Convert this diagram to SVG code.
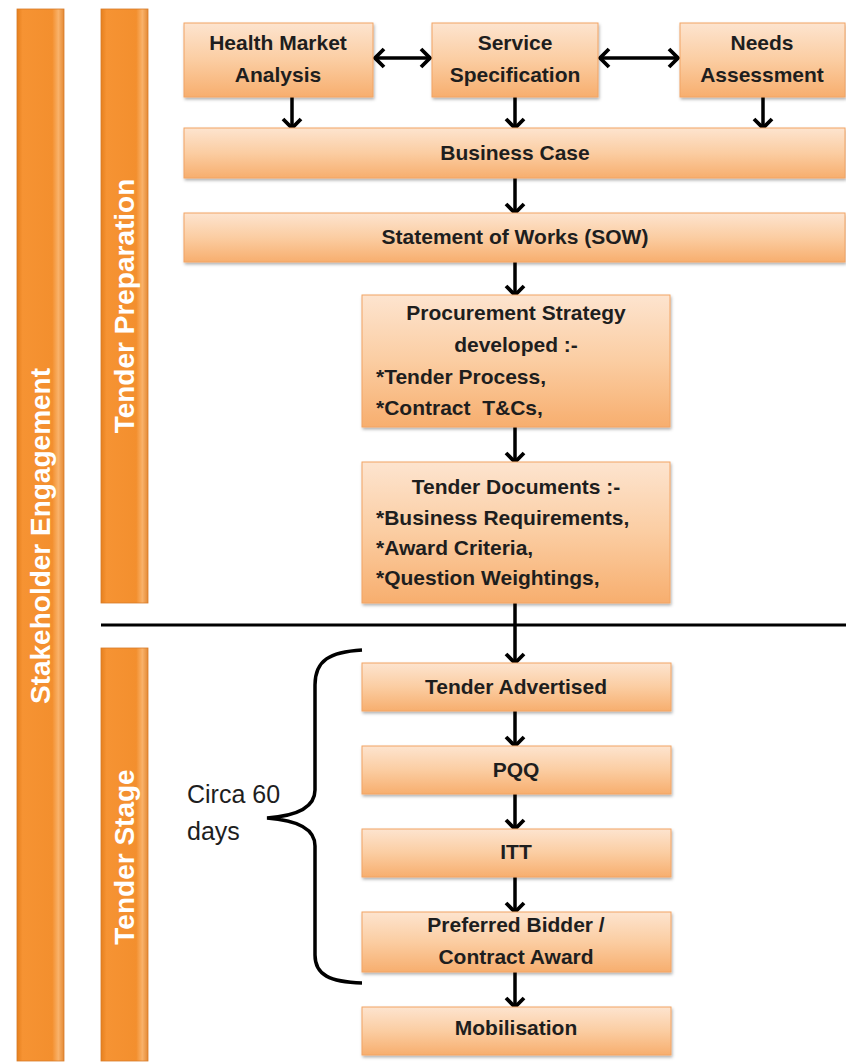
<svg xmlns="http://www.w3.org/2000/svg" width="846" height="1063" viewBox="0 0 846 1063">
<defs>
<linearGradient id="boxg" x1="0" y1="0" x2="0" y2="1">
<stop offset="0" stop-color="#fde4cf"/>
<stop offset="0.5" stop-color="#fbcda2"/>
<stop offset="1" stop-color="#f7ae6e"/>
</linearGradient>
<linearGradient id="barg" x1="0" y1="0" x2="1" y2="0">
<stop offset="0" stop-color="#e6801e"/>
<stop offset="0.12" stop-color="#f69333"/>
<stop offset="0.75" stop-color="#f38f2e"/>
<stop offset="0.88" stop-color="#f9b26a"/>
<stop offset="1" stop-color="#e48a35"/>
</linearGradient>
<filter id="sh" x="-5%" y="-10%" width="115%" height="130%">
<feDropShadow dx="1" dy="2" stdDeviation="1.5" flood-color="#000" flood-opacity="0.3"/>
</filter>
<marker id="ah" viewBox="-12 -12 16 24" markerUnits="userSpaceOnUse" markerWidth="16" markerHeight="24" refX="0" refY="0" orient="auto-start-reverse">
<path d="M-9,-9 L0,0 L-9,9" fill="none" stroke="#000" stroke-width="3.8" stroke-linejoin="miter"/>
</marker>
</defs>
<style>
.box{fill:url(#boxg);stroke:#f2a465;stroke-width:1;filter:url(#sh)}
.bar{fill:url(#barg);stroke:#d67a28;stroke-width:0.8}
.t{font-family:"Liberation Sans",Arial,sans-serif;font-weight:bold;font-size:21px;fill:#1e1e1e;text-anchor:middle}
.l{font-family:"Liberation Sans",Arial,sans-serif;font-weight:bold;font-size:21px;fill:#1e1e1e;text-anchor:start;white-space:pre}
.bt{font-family:"Liberation Sans",Arial,sans-serif;font-weight:bold;font-size:28px;fill:#fff;text-anchor:middle}
.c{fill:none;stroke:#000;stroke-width:3.5}
.ca{fill:none;stroke:#000;stroke-width:3.5;marker-end:url(#ah)}
.da{fill:none;stroke:#000;stroke-width:3.5;marker-end:url(#ah);marker-start:url(#ah)}
.n{font-family:"Liberation Sans",Arial,sans-serif;font-size:25px;fill:#1e1e1e}
</style>
<rect width="846" height="1063" fill="#fff"/>

<g id="bar-stakeholder">
<rect class="bar" x="17" y="9" width="47" height="1052"/>
<text class="bt" transform="translate(50,536) rotate(-90)">Stakeholder Engagement</text>
</g>
<g id="bar-tender-preparation">
<rect class="bar" x="101" y="9" width="47" height="594"/>
<text class="bt" transform="translate(134,306) rotate(-90)">Tender Preparation</text>
</g>
<g id="bar-tender-stage">
<rect class="bar" x="101" y="648" width="47" height="413"/>
<text class="bt" transform="translate(134,857) rotate(-90)">Tender Stage</text>
</g>

<g id="connectors">
<line x1="101" y1="625" x2="846" y2="625" stroke="#000" stroke-width="3"/>
<path class="c" d="M362,650 C330,652 315,660 315,685 L315,790 C315,808 295,816 267,818 C295,820 315,828 315,846 L315,955 C315,975 330,982 362,983"/>
<line class="da" x1="375" y1="58" x2="430" y2="58"/>
<line class="da" x1="600" y1="58" x2="678" y2="58"/>
<line class="ca" x1="292" y1="97" x2="292" y2="128"/>
<line class="ca" x1="515" y1="97" x2="515" y2="128"/>
<line class="ca" x1="763" y1="97" x2="763" y2="128"/>
<line class="ca" x1="515" y1="178" x2="515" y2="213"/>
<line class="ca" x1="515" y1="262" x2="515" y2="295"/>
<line class="ca" x1="515" y1="427" x2="515" y2="462"/>
<line class="ca" x1="515" y1="603" x2="515" y2="663"/>
<line class="ca" x1="515" y1="711" x2="515" y2="746"/>
<line class="ca" x1="515" y1="794" x2="515" y2="829"/>
<line class="ca" x1="515" y1="877" x2="515" y2="912"/>
<line class="ca" x1="515" y1="972" x2="515" y2="1007"/>
</g>

<g id="circa">
<text class="n" x="187" y="803">Circa 60</text>
<text class="n" x="187" y="840">days</text>
</g>

<g id="node-health-market">
<rect class="box" x="184" y="23" width="189" height="74"/>
<text class="t" x="278" y="50">Health Market</text>
<text class="t" x="278" y="82">Analysis</text>
</g>
<g id="node-service-spec">
<rect class="box" x="432" y="23" width="166" height="74"/>
<text class="t" x="515" y="50">Service</text>
<text class="t" x="515" y="82">Specification</text>
</g>
<g id="node-needs">
<rect class="box" x="680" y="23" width="165" height="74"/>
<text class="t" x="762" y="50">Needs</text>
<text class="t" x="762" y="82">Assessment</text>
</g>
<g id="node-business-case">
<rect class="box" x="184" y="128" width="661" height="50"/>
<text class="t" x="515" y="160">Business Case</text>
</g>
<g id="node-sow">
<rect class="box" x="184" y="213" width="661" height="49"/>
<text class="t" x="515" y="244">Statement of Works (SOW)</text>
</g>
<g id="node-procurement">
<rect class="box" x="362" y="295" width="308" height="132"/>
<text class="t" x="516" y="320">Procurement Strategy</text>
<text class="t" x="516" y="352">developed :-</text>
<text class="l" x="376" y="384">*Tender Process,</text>
<text class="l" x="376" y="415">*Contract  T&amp;Cs,</text>
</g>
<g id="node-tender-docs">
<rect class="box" x="362" y="462" width="308" height="141"/>
<text class="t" x="516" y="494">Tender Documents :-</text>
<text class="l" x="376" y="525">*Business Requirements,</text>
<text class="l" x="376" y="555">*Award Criteria,</text>
<text class="l" x="376" y="585">*Question Weightings,</text>
</g>
<g id="node-tender-advertised">
<rect class="box" x="362" y="663" width="309" height="48"/>
<text class="t" x="516" y="694">Tender Advertised</text>
</g>
<g id="node-pqq">
<rect class="box" x="362" y="746" width="309" height="48"/>
<text class="t" x="516" y="777">PQQ</text>
</g>
<g id="node-itt">
<rect class="box" x="362" y="829" width="309" height="48"/>
<text class="t" x="516" y="859">ITT</text>
</g>
<g id="node-preferred">
<rect class="box" x="362" y="912" width="309" height="60"/>
<text class="t" x="516" y="932">Preferred Bidder /</text>
<text class="t" x="516" y="964">Contract Award</text>
</g>
<g id="node-mobilisation">
<rect class="box" x="362" y="1007" width="309" height="48"/>
<text class="t" x="516" y="1035">Mobilisation</text>
</g>
</svg>
